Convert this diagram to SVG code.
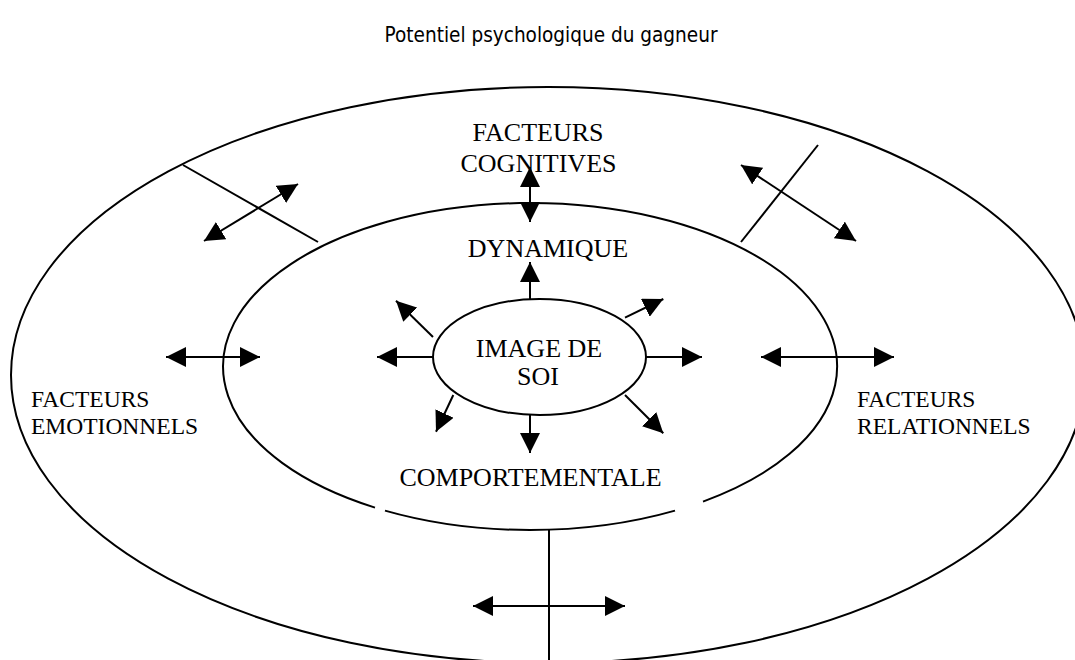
<svg xmlns="http://www.w3.org/2000/svg" width="1075" height="660" viewBox="0 0 1075 660">
  <style>
    .shape { fill: none; stroke: #000; stroke-width: 2; }
    .ln { stroke: #000; stroke-width: 2; fill: none; }
    .arr { stroke: #000; stroke-width: 2; fill: none; marker-end: url(#ah); }
    .darr { stroke: #000; stroke-width: 2; fill: none; marker-start: url(#ah); marker-end: url(#ah); }
    .lbl { font-family: "Liberation Serif", "Times New Roman", serif; fill: #000; }
    .big { font-size: 26px; }
    .side { font-size: 23.5px; }
    .title { font-family: "Comic Sans MS", "DejaVu Sans", sans-serif; font-size: 21px; fill: #000; }
  </style>
  <defs>
    <marker id="ah" viewBox="0 0 20 20" refX="20" refY="10" markerWidth="20" markerHeight="20" markerUnits="userSpaceOnUse" orient="auto-start-reverse">
      <path d="M0,0 L20,10 L0,20 z" fill="#000"/>
    </marker>
  </defs>
  <rect width="1075" height="660" fill="#fff"/>

  <text class="title" x="551" y="42" text-anchor="middle" textLength="333" lengthAdjust="spacingAndGlyphs">Potentiel psychologique du gagneur</text>

  <g id="outer">
    <ellipse class="shape" cx="548" cy="375" rx="537" ry="288"/>
  </g>

  <g id="inner">
    <path class="shape" d="M703,501.6 A307,163.5 0 1 0 375,507.6"/>
    <path class="shape" d="M385,510.6 A307,163.5 0 0 0 675,510.6"/>
  </g>

  <g id="center">
    <ellipse class="shape" cx="539.5" cy="357" rx="106.5" ry="58"/>
    <text class="lbl big" x="539" y="357" text-anchor="middle">IMAGE DE</text>
    <text class="lbl big" x="538" y="385" text-anchor="middle">SOI</text>
  </g>

  <g id="label-cognitives">
    <text class="lbl big" x="538" y="141" text-anchor="middle">FACTEURS</text>
    <text class="lbl big" x="538.5" y="171.7" text-anchor="middle">COGNITIVES</text>
  </g>
  <g id="label-dynamique">
    <text class="lbl big" x="548" y="256.7" text-anchor="middle">DYNAMIQUE</text>
  </g>
  <g id="label-comportementale">
    <text class="lbl big" x="530.5" y="486" text-anchor="middle">COMPORTEMENTALE</text>
  </g>
  <g id="label-emotionnels">
    <text class="lbl side" x="31" y="407">FACTEURS</text>
    <text class="lbl side" x="31" y="434">EMOTIONNELS</text>
  </g>
  <g id="label-relationnels">
    <text class="lbl side" x="857" y="407">FACTEURS</text>
    <text class="lbl side" x="857" y="434">RELATIONNELS</text>
  </g>

  <g id="connectors">
    <line class="ln" x1="183" y1="165" x2="318" y2="242"/>
    <line class="ln" x1="818" y1="145" x2="741" y2="242"/>
    <line class="ln" x1="549" y1="530" x2="549" y2="660"/>
    <line class="darr" x1="204" y1="241" x2="298" y2="184"/>
    <line class="darr" x1="530" y1="167" x2="530" y2="222"/>
    <line class="darr" x1="741" y1="165" x2="856" y2="241"/>
    <line class="darr" x1="166" y1="357" x2="260" y2="357"/>
    <line class="darr" x1="761" y1="357" x2="894" y2="357"/>
    <line class="darr" x1="473" y1="606" x2="625" y2="606"/>
    <line class="arr" x1="530" y1="299" x2="530" y2="262"/>
    <line class="arr" x1="530" y1="415" x2="530" y2="453"/>
    <line class="arr" x1="433" y1="357" x2="377" y2="357"/>
    <line class="arr" x1="646" y1="357" x2="702" y2="357"/>
    <line class="arr" x1="433" y1="337" x2="396" y2="300.7"/>
    <line class="arr" x1="625" y1="317.7" x2="663.3" y2="299"/>
    <line class="arr" x1="453.3" y1="395" x2="436" y2="431.7"/>
    <line class="arr" x1="625" y1="395" x2="663.3" y2="433.3"/>
  </g>
</svg>
